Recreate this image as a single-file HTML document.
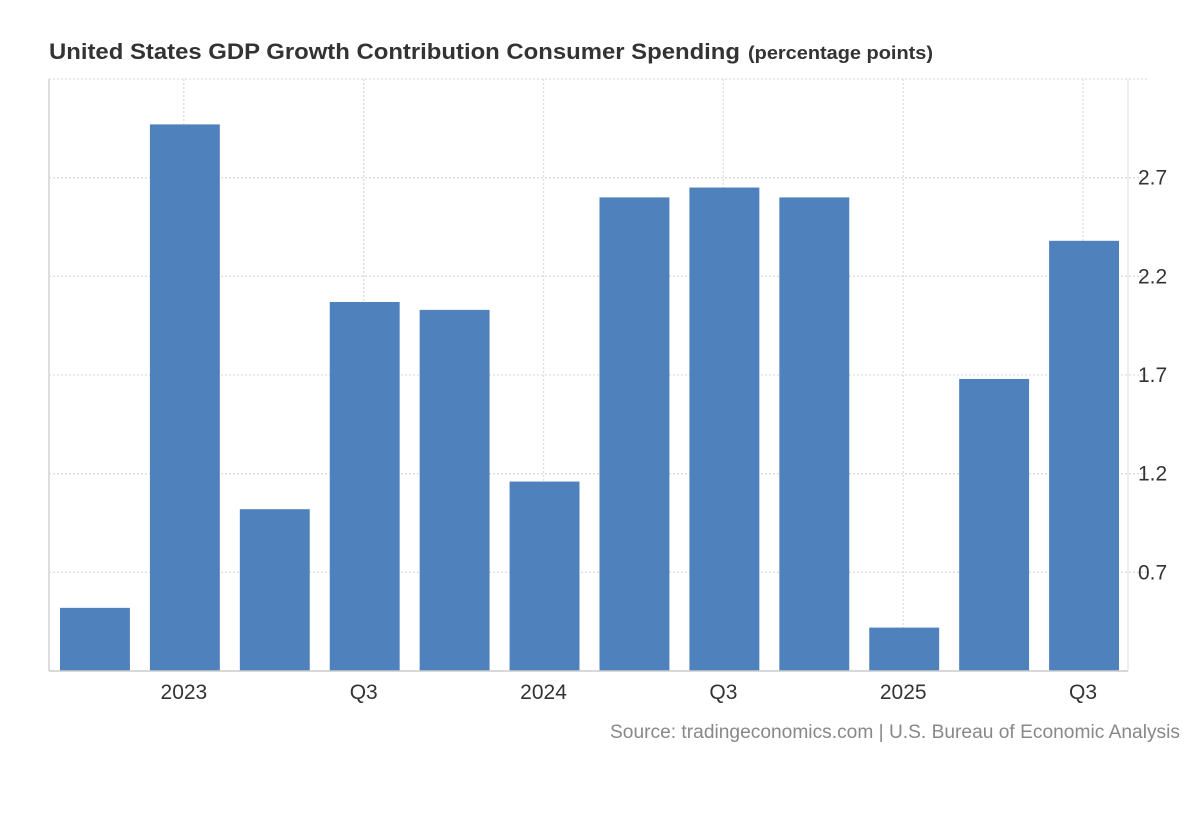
<!DOCTYPE html>
<html><head><meta charset="utf-8">
<style>
body{margin:0;background:#fff;width:1200px;height:820px;overflow:hidden;font-family:"Liberation Sans",Arial,sans-serif;}
svg{position:absolute;left:0;top:0}
</style></head>
<body>
<svg width="1200" height="820">
<text x="49" y="59" font-size="22" font-weight="bold" fill="#333"><tspan textLength="691" lengthAdjust="spacingAndGlyphs">United States GDP Growth Contribution Consumer Spending</tspan><tspan font-size="18" dx="8" textLength="185" lengthAdjust="spacingAndGlyphs">(percentage points)</tspan></text>
<g id="grid"></g>
<g id="bars"></g>
<g id="axes"></g>
<text x="610" y="738" font-size="19" fill="#888" textLength="570" lengthAdjust="spacingAndGlyphs">Source: tradingeconomics.com | U.S. Bureau of Economic Analysis</text>
</svg>
<script>
const categories=["2022 Q4","2023","Q2","Q3","Q4","2024","Q2","Q3","Q4","2025","Q2","Q3"];
const values=[0.52,2.97,1.02,2.07,2.03,1.16,2.6,2.65,2.6,0.42,1.68,2.38];
const yTicks=[0.7,1.2,1.7,2.2,2.7];
const xLabels=["","2023","","Q3","","2024","","Q3","","2025","","Q3"];
const NS="http://www.w3.org/2000/svg";
const pLeft=49,pRight=1128,pTop=79,pBottom=671,yMin=0.2,yMax=3.2;
const band=(pRight-pLeft)/categories.length;
const yS=v=>pBottom-(v-yMin)/(yMax-yMin)*(pBottom-pTop);
const xS=i=>pLeft+band*i;
function mk(tag,attrs,parent){const e=document.createElementNS(NS,tag);for(const k in attrs)e.setAttribute(k,attrs[k]);parent.appendChild(e);return e;}
const grid=document.getElementById('grid'),bars=document.getElementById('bars'),axes=document.getElementById('axes');
const hv=[yMax,...yTicks];
hv.forEach(v=>{const l=mk('line',{x1:pLeft,x2:1148,y1:yS(v),y2:yS(v),stroke:'#ddd','stroke-width':1.3,'stroke-dasharray':'2,2'},grid);

});
xLabels.forEach((lab,i)=>{if(!lab)return;const cx=xS(i)+band/2;
const l=mk('line',{x1:cx,x2:cx,y1:pTop,y2:pBottom,stroke:'#ddd','stroke-width':1.3,'stroke-dasharray':'2,2'},grid);


const t=mk('text',{x:cx,y:699,'text-anchor':'middle','font-size':21,fill:'#333'},axes);t.textContent=lab;

});
values.forEach((v,i)=>{const r=mk('rect',{x:xS(i)+11,width:band-20,y:yS(v),height:pBottom-yS(v),fill:'#4f81bd'},bars);

});
yTicks.forEach(v=>{const t=mk('text',{x:1138,y:yS(v)+7,'font-size':21,fill:'#333'},axes);t.textContent=v.toFixed(1);

});
const a=mk('line',{x1:pLeft,x2:pLeft,y1:pTop,y2:pBottom,stroke:'#ddd','stroke-width':2},axes);


const a2=mk('line',{x1:pRight,x2:pRight,y1:pTop,y2:pBottom,stroke:'#ddd','stroke-width':1},axes);


const b=mk('line',{x1:pLeft,x2:pRight,y1:pBottom,y2:pBottom,stroke:'#ccc','stroke-width':1.5},axes);


</script>
</body></html>
